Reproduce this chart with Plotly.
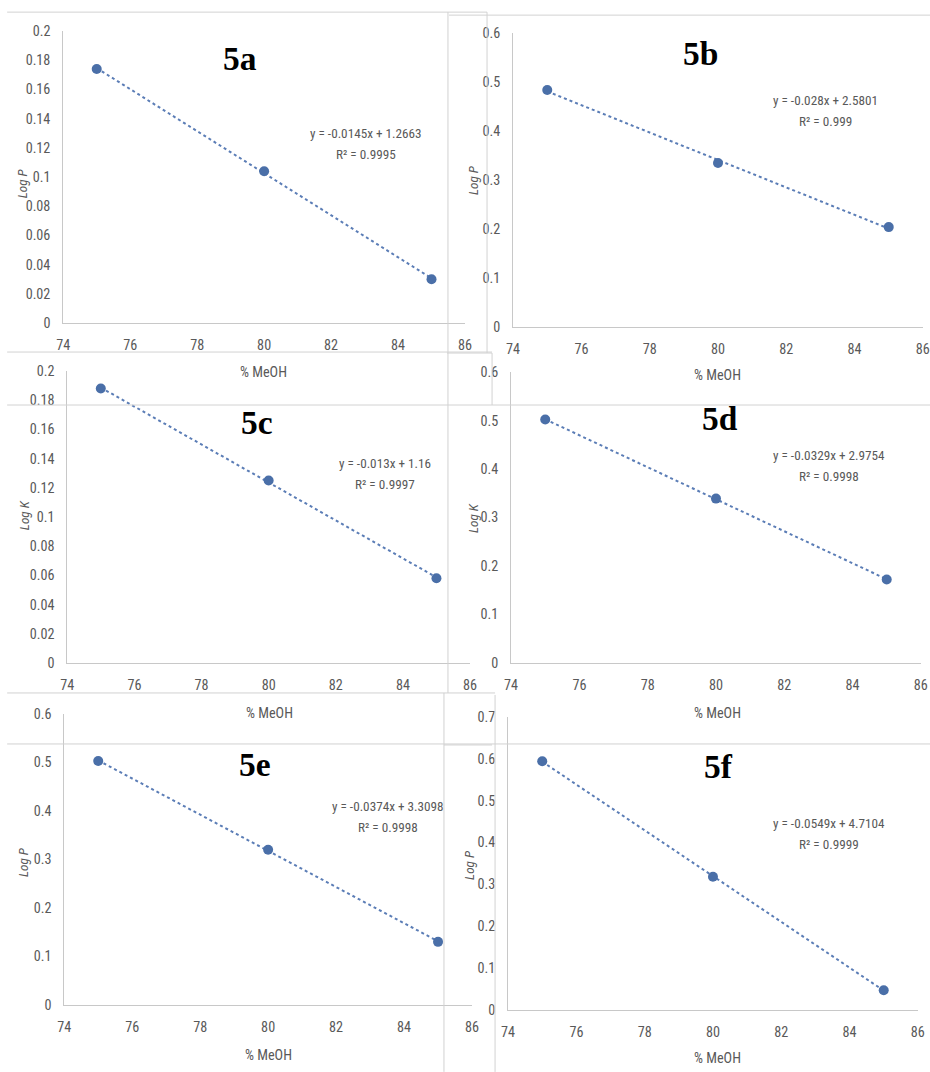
import numpy as np
import plotly.graph_objects as go

# ---------------- data ----------------
x_meoh = [75, 80, 85]
logp_5a = [0.174, 0.104, 0.030]
logp_5b = [0.484, 0.335, 0.204]
logk_5c = [0.188, 0.125, 0.058]
logk_5d = [0.502, 0.339, 0.172]
logp_5e = [0.503, 0.320, 0.130]
logp_5f = [0.594, 0.318, 0.047]

panel_labels = ["5a", "5b", "5c", "5d", "5e", "5f"]
y_titles = ["Log P", "Log P", "Log K", "Log K", "Log P", "Log P"]
equations = ["y = -0.0145x + 1.2663", "y = -0.028x + 2.5801", "y = -0.013x + 1.16",
             "y = -0.0329x + 2.9754", "y = -0.0374x + 3.3098", "y = -0.0549x + 4.7104"]
r2_texts = ["R² = 0.9995", "R² = 0.999", "R² = 0.9997", "R² = 0.9998", "R² = 0.9998", "R² = 0.9999"]
y_max = [0.2, 0.6, 0.2, 0.6, 0.6, 0.7]
y_dtick = [0.02, 0.1, 0.02, 0.1, 0.1, 0.1]
x_title = "% MeOH"
x_tick_vals = [74, 76, 78, 80, 82, 84, 86]

series = [logp_5a, logp_5b, logk_5c, logk_5d, logp_5e, logp_5f]

# ---------------- layout geometry (target pixels in the final picture) ----------------
W, H = 930, 1072
SX, SY = 946 / 930, 1088 / 1072   # compensation for page margin + fit-to-window scaling
FS = (SX + SY) / 2

boxes = [(64, 465, 31, 323), (513, 922, 33, 327),
         (68, 470, 371, 663), (511, 920, 372, 663),
         (65, 472, 714, 1005), (508, 917, 717, 1010)]
label_pos = [(240, 58), (700, 53), (257, 422), (720, 418), (255, 765), (718, 767)]
eq_pos = [(366, 133), (825, 100), (385, 463), (828, 455), (388, 807), (828, 824)]
ytitle_pos = [(23, 183), (473, 180), (25, 515), (473, 518), (25, 862), (470, 865)]
xtitle_pos = [(264, 372), (717, 375), (270, 713), (717, 713), (269, 1055), (717, 1058)]


def px(x):
    return (x * SX - 8) / W


def py(y):
    return 1 - (y * SY - 8) / H


def fs(size):
    return round(size * FS, 1)


FONT_FAMILY = "Liberation Sans Narrow, Roboto Condensed, Arial Narrow, Lato, sans-serif"
TICK_FONT = dict(family=FONT_FAMILY, size=fs(14), color="#595959")
MARKER_C = "#4a6fa8"
LINE_C = "#5b7db6"
AXIS_C = "#c8c8c8"
FRAME_C = "#d2d2d2"

fig = go.Figure()
annotations = []

for i, ys in enumerate(series):
    n = i + 1
    xa = "x" if n == 1 else f"x{n}"
    ya = "y" if n == 1 else f"y{n}"
    l, r, t, b = boxes[i]
    # trendline (least-squares fit of the data, like Excel's linear trendline)
    slope, intercept = np.polyfit(x_meoh, ys, 1)
    xs_fit = [x_meoh[0], x_meoh[-1]]
    fig.add_trace(go.Scatter(x=xs_fit, y=[slope * v + intercept for v in xs_fit],
                             mode="lines", line=dict(color=LINE_C, width=2, dash="dot"),
                             xaxis=xa, yaxis=ya, showlegend=False, hoverinfo="skip"))
    fig.add_trace(go.Scatter(x=x_meoh, y=ys, mode="markers",
                             marker=dict(color=MARKER_C, size=10),
                             xaxis=xa, yaxis=ya, showlegend=False))
    xkey = "xaxis" if n == 1 else f"xaxis{n}"
    ykey = "yaxis" if n == 1 else f"yaxis{n}"
    fig.layout[xkey] = dict(domain=[max(0, px(l)), min(1, px(r))], range=[74, 86],
                            tickvals=x_tick_vals, showgrid=False, zeroline=False,
                            showline=True, linecolor=AXIS_C, linewidth=1, ticks="",
                            tickfont=TICK_FONT, anchor=ya, ticklabelstandoff=9,
                            fixedrange=True)
    fig.layout[ykey] = dict(domain=[max(0, py(b)), min(1, py(t))], range=[0, y_max[i]],
                            dtick=y_dtick[i], tick0=0, showgrid=False, zeroline=False,
                            showline=True, linecolor=AXIS_C, linewidth=1, ticks="",
                            tickfont=TICK_FONT, anchor=xa, ticklabelstandoff=9,
                            fixedrange=True)
    lx, ly = label_pos[i]
    annotations.append(dict(x=px(lx), y=py(ly), xref="paper", yref="paper",
                            text=f"<b>{panel_labels[i]}</b>", showarrow=False,
                            xanchor="center", yanchor="middle",
                            font=dict(family="Liberation Serif, Times New Roman, serif",
                                      size=fs(33), color="#000000")))
    ex, ey = eq_pos[i]
    annotations.append(dict(x=px(ex), y=py(ey), xref="paper", yref="paper",
                            text=equations[i], showarrow=False, xanchor="center",
                            yanchor="middle", font=dict(TICK_FONT, size=fs(13))))
    annotations.append(dict(x=px(ex), y=py(ey + 21), xref="paper", yref="paper",
                            text=r2_texts[i], showarrow=False, xanchor="center",
                            yanchor="middle", font=dict(TICK_FONT, size=fs(13))))
    tx, ty = ytitle_pos[i]
    annotations.append(dict(x=px(tx), y=py(ty), xref="paper", yref="paper",
                            text=f"<i>{y_titles[i]}</i>", showarrow=False, textangle=-90,
                            xanchor="center", yanchor="middle",
                            font=dict(TICK_FONT, size=fs(13))))
    qx, qy = xtitle_pos[i]
    annotations.append(dict(x=px(qx), y=py(qy), xref="paper", yref="paper",
                            text=x_title, showarrow=False, xanchor="center",
                            yanchor="middle", font=dict(TICK_FONT, size=fs(14))))

# screenshot frame lines of the collage (target pixels)
frame_segments = [
    (8, 12, 487, 12), (449, 15, 930, 15), (448, 12, 448, 693), (487, 12, 487, 353),
    (8, 352, 492, 352), (447, 353, 492, 353), (492, 353, 492, 405), (8, 405, 930, 405),
    (8, 693, 495, 693), (444, 693, 444, 1072), (495, 695, 495, 1072),
    (444, 745, 492, 745), (8, 744, 930, 744),
]
shapes = []
for (x0, y0, x1, y1) in frame_segments:
    shapes.append(dict(type="line", xref="paper", yref="paper", x0=px(x0), y0=py(y0),
                       x1=px(x1), y1=py(y1), line=dict(color=FRAME_C, width=1)))

fig.update_layout(width=W, height=H, margin=dict(l=0, r=0, t=0, b=0),
                  paper_bgcolor="white", plot_bgcolor="rgba(0,0,0,0)",
                  annotations=annotations, shapes=shapes, showlegend=False)

fig.write_html(
    "out.html",
    config={"displayModeBar": False},
    post_script=("document.documentElement.style.margin='0';"
                 "document.documentElement.style.overflow='hidden';"
                 "document.body.style.margin='0';document.body.style.padding='0';"
                 "document.body.style.overflow='hidden';"),
)
